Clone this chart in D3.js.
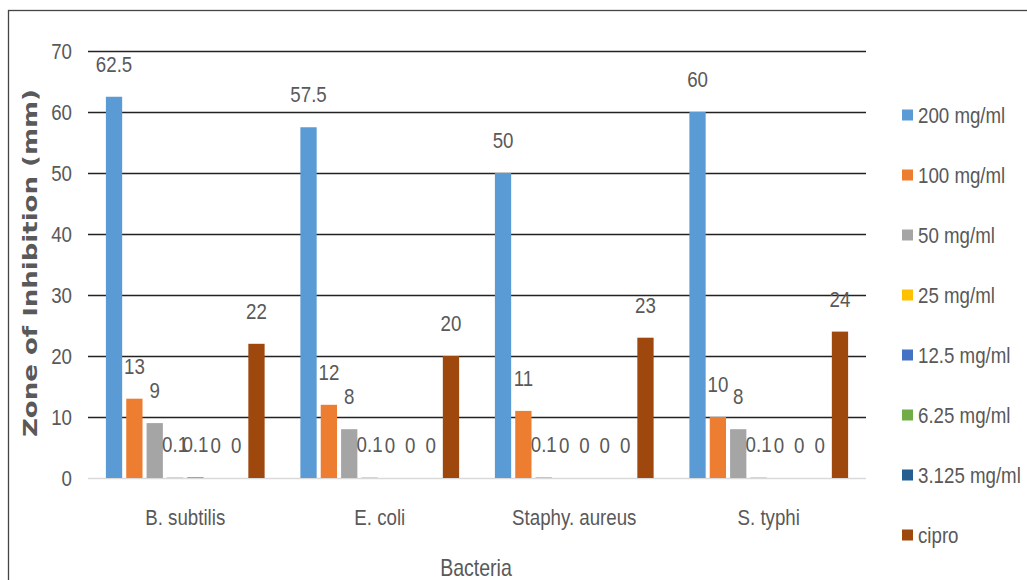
<!DOCTYPE html>
<html><head><meta charset="utf-8">
<script src="https://cdn.jsdelivr.net/npm/d3@7"></script>
<style>
html,body{margin:0;padding:0;background:#fff;overflow:hidden}
text{font-family:"Liberation Sans",Arial,sans-serif;fill:#595959}
</style></head>
<body>
<svg id="c" width="1027" height="580"></svg>
<script>
const categories = ["B. subtilis", "E. coli", "Staphy. aureus", "S. typhi"];
const seriesNames = ["200 mg/ml", "100 mg/ml", "50 mg/ml", "25 mg/ml", "12.5 mg/ml", "6.25 mg/ml", "3.125 mg/ml", "cipro"];
const s200 = [62.5, 57.5, 50, 60];
const s100 = [13, 12, 11, 10];
const s50 = [9, 8, 0.1, 8];
const s25 = [0.1, 0.1, 0, 0.1];
const s12_5 = [0.1, 0, 0, 0];
const s6_25 = [0, 0, 0, 0];
const s3_125 = [0, 0, 0, 0];
const cipro = [22, 20, 23, 24];
const yTicks = [0, 10, 20, 30, 40, 50, 60, 70];
const colors = ["#5B9BD5", "#ED7D31", "#A5A5A5", "#FFC000", "#4472C4", "#70AD47", "#255E91", "#9E480E"];

const seriesValues = [s200, s100, s50, s25, s12_5, s6_25, s3_125, cipro];
const SX = 0.85; // horizontal squeeze to mimic the narrow font

const svg = d3.select("#c");
// chart border
svg.append("rect").attr("x", 8.5).attr("y", 10.5).attr("width", 1040).attr("height", 600)
  .attr("fill", "none").attr("stroke", "#444").attr("stroke-width", 1.3);

const pLeft = 88, pRight = 866, pTop = 51, pBottom = 478;
const y = d3.scaleLinear().domain([0, 70]).range([pBottom, pTop]);
const x0 = d3.scaleBand().domain(categories).range([pLeft, pRight]).paddingInner(0.163).paddingOuter(0.0815);
const x1 = d3.scaleBand().domain(seriesNames).range([0, x0.bandwidth()]).paddingInner(0.2).paddingOuter(0.1);

// gridlines
const yAxis = d3.axisLeft(y).tickValues(yTicks).tickSize(-(pRight - pLeft)).tickFormat(d3.format("d"));
const ga = svg.append("g").attr("transform", `translate(${pLeft},0)`).call(yAxis);
ga.select(".domain").remove();
ga.selectAll(".tick line").attr("stroke", d => d === 0 ? "#d9d9d9" : "#222").attr("stroke-width", d => d === 0 ? 1.5 : 1.6);
ga.selectAll(".tick text").attr("x", 0).attr("transform", `translate(-16,0) scale(${SX},1)`)
  .style("font-size", "22px").attr("fill", "#595959");

// bars
const groups = svg.append("g").selectAll("g").data(categories).join("g")
  .attr("transform", d => `translate(${x0(d)},0)`);
groups.each(function(cat, ci) {
  const g = d3.select(this);
  seriesNames.forEach((s, si) => {
    const v = seriesValues[si][ci];
    g.append("rect").attr("x", x1(s)).attr("width", x1.bandwidth())
      .attr("y", y(v)).attr("height", y(0) - y(v)).attr("fill", colors[si]);
  });
});
// labels
groups.each(function(cat, ci) {
  const g = d3.select(this);
  seriesNames.forEach((s, si) => {
    const v = seriesValues[si][ci];
    g.append("text")
      .attr("transform", `translate(${x1(s) + x1.bandwidth() / 2},${y(v) - 25}) scale(${SX},1)`)
      .attr("text-anchor", "middle").style("font-size", "22px").text(String(v));
  });
});

// x labels
svg.append("g").selectAll("text").data(categories).join("text")
  .attr("transform", d => `translate(${x0(d) + x0.bandwidth() / 2},525) scale(${SX},1)`)
  .attr("text-anchor", "middle").style("font-size", "22px").text(d => d);

// axis titles
svg.append("text").attr("transform", `translate(${(pLeft + pRight) / 2 - 1},576) scale(${SX},1)`)
  .attr("text-anchor", "middle").style("font-size", "23px").text("Bacteria");
svg.append("text").attr("transform", "translate(37,263) rotate(-90)").attr("text-anchor", "middle")
  .style("font-family", "'DejaVu Sans',sans-serif").style("font-weight", "bold").style("font-size", "19px")
  .attr("textLength", 348).attr("lengthAdjust", "spacingAndGlyphs")
  .text("Zone of Inhibition (mm)");

// legend
const lg = svg.append("g").selectAll("g").data(seriesNames).join("g")
  .attr("transform", (d, i) => `translate(902,${115 + i * 60})`);
lg.append("rect").attr("x", 0).attr("y", -5.5).attr("width", 11).attr("height", 11).attr("fill", (d, i) => colors[i]);
lg.append("text").attr("transform", `translate(16,8) scale(${SX},1)`).style("font-size", "22px").text(d => d);
</script>
</body></html>
